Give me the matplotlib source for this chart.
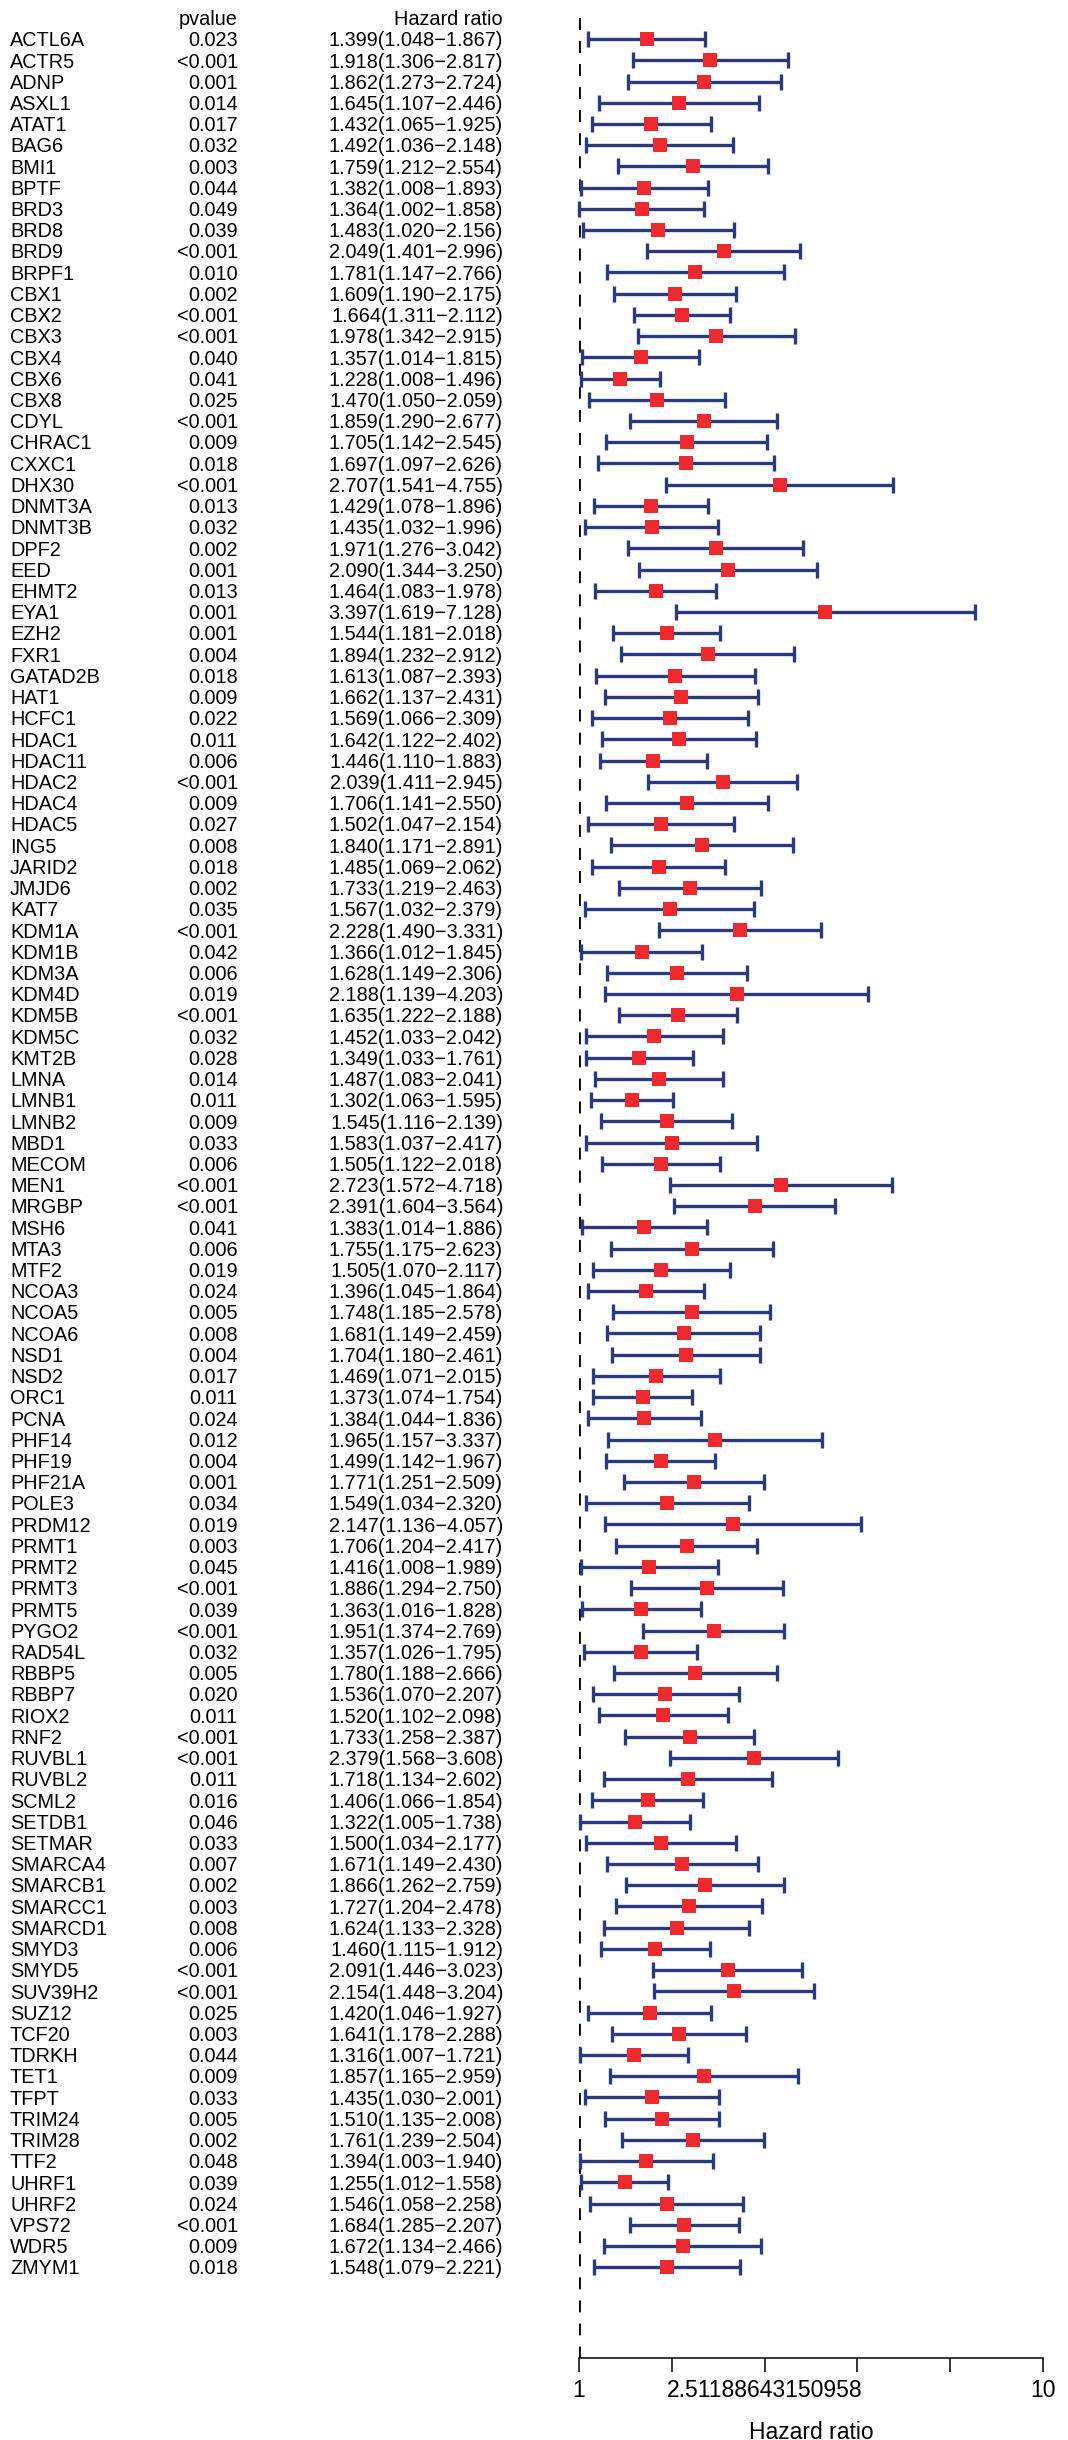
import numpy as np
import matplotlib
matplotlib.use("Agg")
import matplotlib.pyplot as plt
from matplotlib import transforms
from matplotlib.ticker import NullLocator

plt.rcParams['font.family'] = ['Liberation Sans', 'DejaVu Sans']

# univariate Cox results per gene
genes = ["ACTL6A", "ACTR5", "ADNP", "ASXL1", "ATAT1", "BAG6", "BMI1", "BPTF", "BRD3", "BRD8",
         "BRD9", "BRPF1", "CBX1", "CBX2", "CBX3", "CBX4", "CBX6", "CBX8", "CDYL", "CHRAC1",
         "CXXC1", "DHX30", "DNMT3A", "DNMT3B", "DPF2", "EED", "EHMT2", "EYA1", "EZH2", "FXR1",
         "GATAD2B", "HAT1", "HCFC1", "HDAC1", "HDAC11", "HDAC2", "HDAC4", "HDAC5", "ING5", "JARID2",
         "JMJD6", "KAT7", "KDM1A", "KDM1B", "KDM3A", "KDM4D", "KDM5B", "KDM5C", "KMT2B", "LMNA",
         "LMNB1", "LMNB2", "MBD1", "MECOM", "MEN1", "MRGBP", "MSH6", "MTA3", "MTF2", "NCOA3",
         "NCOA5", "NCOA6", "NSD1", "NSD2", "ORC1", "PCNA", "PHF14", "PHF19", "PHF21A", "POLE3",
         "PRDM12", "PRMT1", "PRMT2", "PRMT3", "PRMT5", "PYGO2", "RAD54L", "RBBP5", "RBBP7", "RIOX2",
         "RNF2", "RUVBL1", "RUVBL2", "SCML2", "SETDB1", "SETMAR", "SMARCA4", "SMARCB1", "SMARCC1", "SMARCD1",
         "SMYD3", "SMYD5", "SUV39H2", "SUZ12", "TCF20", "TDRKH", "TET1", "TFPT", "TRIM24", "TRIM28",
         "TTF2", "UHRF1", "UHRF2", "VPS72", "WDR5", "ZMYM1"]

pvalues = ["0.023", "<0.001", "0.001", "0.014", "0.017", "0.032", "0.003", "0.044", "0.049", "0.039",
           "<0.001", "0.010", "0.002", "<0.001", "<0.001", "0.040", "0.041", "0.025", "<0.001", "0.009",
           "0.018", "<0.001", "0.013", "0.032", "0.002", "0.001", "0.013", "0.001", "0.001", "0.004",
           "0.018", "0.009", "0.022", "0.011", "0.006", "<0.001", "0.009", "0.027", "0.008", "0.018",
           "0.002", "0.035", "<0.001", "0.042", "0.006", "0.019", "<0.001", "0.032", "0.028", "0.014",
           "0.011", "0.009", "0.033", "0.006", "<0.001", "<0.001", "0.041", "0.006", "0.019", "0.024",
           "0.005", "0.008", "0.004", "0.017", "0.011", "0.024", "0.012", "0.004", "0.001", "0.034",
           "0.019", "0.003", "0.045", "<0.001", "0.039", "<0.001", "0.032", "0.005", "0.020", "0.011",
           "<0.001", "<0.001", "0.011", "0.016", "0.046", "0.033", "0.007", "0.002", "0.003", "0.008",
           "0.006", "<0.001", "<0.001", "0.025", "0.003", "0.044", "0.009", "0.033", "0.005", "0.002",
           "0.048", "0.039", "0.024", "<0.001", "0.009", "0.018"]

hr = [1.399, 1.918, 1.862, 1.645, 1.432, 1.492, 1.759, 1.382, 1.364, 1.483,
      2.049, 1.781, 1.609, 1.664, 1.978, 1.357, 1.228, 1.470, 1.859, 1.705,
      1.697, 2.707, 1.429, 1.435, 1.971, 2.090, 1.464, 3.397, 1.544, 1.894,
      1.613, 1.662, 1.569, 1.642, 1.446, 2.039, 1.706, 1.502, 1.840, 1.485,
      1.733, 1.567, 2.228, 1.366, 1.628, 2.188, 1.635, 1.452, 1.349, 1.487,
      1.302, 1.545, 1.583, 1.505, 2.723, 2.391, 1.383, 1.755, 1.505, 1.396,
      1.748, 1.681, 1.704, 1.469, 1.373, 1.384, 1.965, 1.499, 1.771, 1.549,
      2.147, 1.706, 1.416, 1.886, 1.363, 1.951, 1.357, 1.780, 1.536, 1.520,
      1.733, 2.379, 1.718, 1.406, 1.322, 1.500, 1.671, 1.866, 1.727, 1.624,
      1.460, 2.091, 2.154, 1.420, 1.641, 1.316, 1.857, 1.435, 1.510, 1.761,
      1.394, 1.255, 1.546, 1.684, 1.672, 1.548]

hr_low = [1.048, 1.306, 1.273, 1.107, 1.065, 1.036, 1.212, 1.008, 1.002, 1.020,
          1.401, 1.147, 1.190, 1.311, 1.342, 1.014, 1.008, 1.050, 1.290, 1.142,
          1.097, 1.541, 1.078, 1.032, 1.276, 1.344, 1.083, 1.619, 1.181, 1.232,
          1.087, 1.137, 1.066, 1.122, 1.110, 1.411, 1.141, 1.047, 1.171, 1.069,
          1.219, 1.032, 1.490, 1.012, 1.149, 1.139, 1.222, 1.033, 1.033, 1.083,
          1.063, 1.116, 1.037, 1.122, 1.572, 1.604, 1.014, 1.175, 1.070, 1.045,
          1.185, 1.149, 1.180, 1.071, 1.074, 1.044, 1.157, 1.142, 1.251, 1.034,
          1.136, 1.204, 1.008, 1.294, 1.016, 1.374, 1.026, 1.188, 1.070, 1.102,
          1.258, 1.568, 1.134, 1.066, 1.005, 1.034, 1.149, 1.262, 1.204, 1.133,
          1.115, 1.446, 1.448, 1.046, 1.178, 1.007, 1.165, 1.030, 1.135, 1.239,
          1.003, 1.012, 1.058, 1.285, 1.134, 1.079]

hr_high = [1.867, 2.817, 2.724, 2.446, 1.925, 2.148, 2.554, 1.893, 1.858, 2.156,
           2.996, 2.766, 2.175, 2.112, 2.915, 1.815, 1.496, 2.059, 2.677, 2.545,
           2.626, 4.755, 1.896, 1.996, 3.042, 3.250, 1.978, 7.128, 2.018, 2.912,
           2.393, 2.431, 2.309, 2.402, 1.883, 2.945, 2.550, 2.154, 2.891, 2.062,
           2.463, 2.379, 3.331, 1.845, 2.306, 4.203, 2.188, 2.042, 1.761, 2.041,
           1.595, 2.139, 2.417, 2.018, 4.718, 3.564, 1.886, 2.623, 2.117, 1.864,
           2.578, 2.459, 2.461, 2.015, 1.754, 1.836, 3.337, 1.967, 2.509, 2.320,
           4.057, 2.417, 1.989, 2.750, 1.828, 2.769, 1.795, 2.666, 2.207, 2.098,
           2.387, 3.608, 2.602, 1.854, 1.738, 2.177, 2.430, 2.759, 2.478, 2.328,
           1.912, 3.023, 3.204, 1.927, 2.288, 1.721, 2.959, 2.001, 2.008, 2.504,
           1.940, 1.558, 2.258, 2.207, 2.466, 2.221]

hr = np.array(hr)
hr_low = np.array(hr_low)
hr_high = np.array(hr_high)
n = len(genes)
rows = np.arange(n)

fig = plt.figure(figsize=(10.68, 24.4), dpi=100)
ax = fig.add_axes([579 / 1068, 1 - 2358 / 2440, 464 / 1068, 2348 / 2440])
ax.set_xscale('log')
ax.set_xlim(1, 10)
ax.set_ylim(n + 3.28, -1.37)

# reference line at HR = 1
ax.axvline(1, color='black', lw=2, linestyle=(0, (4.3, 4.0)), zorder=1)

# confidence intervals and point estimates
ax.errorbar(hr, rows, xerr=[hr - hr_low, hr_high - hr], fmt='none',
            ecolor='#2B3A7E', elinewidth=2.4, capsize=6.1, capthick=2.4,
            zorder=2, clip_on=False)
ax.plot(hr, rows, 's', color='#EE2A2F', markersize=10, markeredgewidth=0,
        zorder=3, clip_on=False)

for side in ['left', 'top', 'right']:
    ax.spines[side].set_visible(False)
ax.spines['bottom'].set_linewidth(1.1)
ax.set_yticks([])
ax.set_xticks(10 ** np.linspace(0, 1, 6))
ax.set_xticklabels(['1', '', '2.51188643150958', '', '', '10'])
ax.xaxis.set_minor_locator(NullLocator())
ax.tick_params(axis='x', length=10, width=1.1, pad=5, labelsize=16.5)
ax.set_xlabel('Hazard ratio', fontsize=16.5, labelpad=14)

# text columns on the left, aligned to the plot rows
trans = transforms.blended_transform_factory(fig.transFigure, ax.transData)
fs = 14.3
base = 0.34
fig.text(238 / 1068, -1 + base, 'pvalue', ha='right', va='baseline', fontsize=fs, transform=trans)
fig.text(503 / 1068, -1 + base, 'Hazard ratio', ha='right', va='baseline', fontsize=fs, transform=trans)
for i in range(n):
    fig.text(10 / 1068, i + base, genes[i], ha='left', va='baseline', fontsize=fs, transform=trans)
    fig.text(238 / 1068, i + base, pvalues[i], ha='right', va='baseline', fontsize=fs, transform=trans)
    label = f"{hr[i]:.3f}({hr_low[i]:.3f}\u2212{hr_high[i]:.3f})"
    fig.text(503 / 1068, i + base, label, ha='right', va='baseline', fontsize=fs, transform=trans)

fig.savefig('out.png', dpi=100)
